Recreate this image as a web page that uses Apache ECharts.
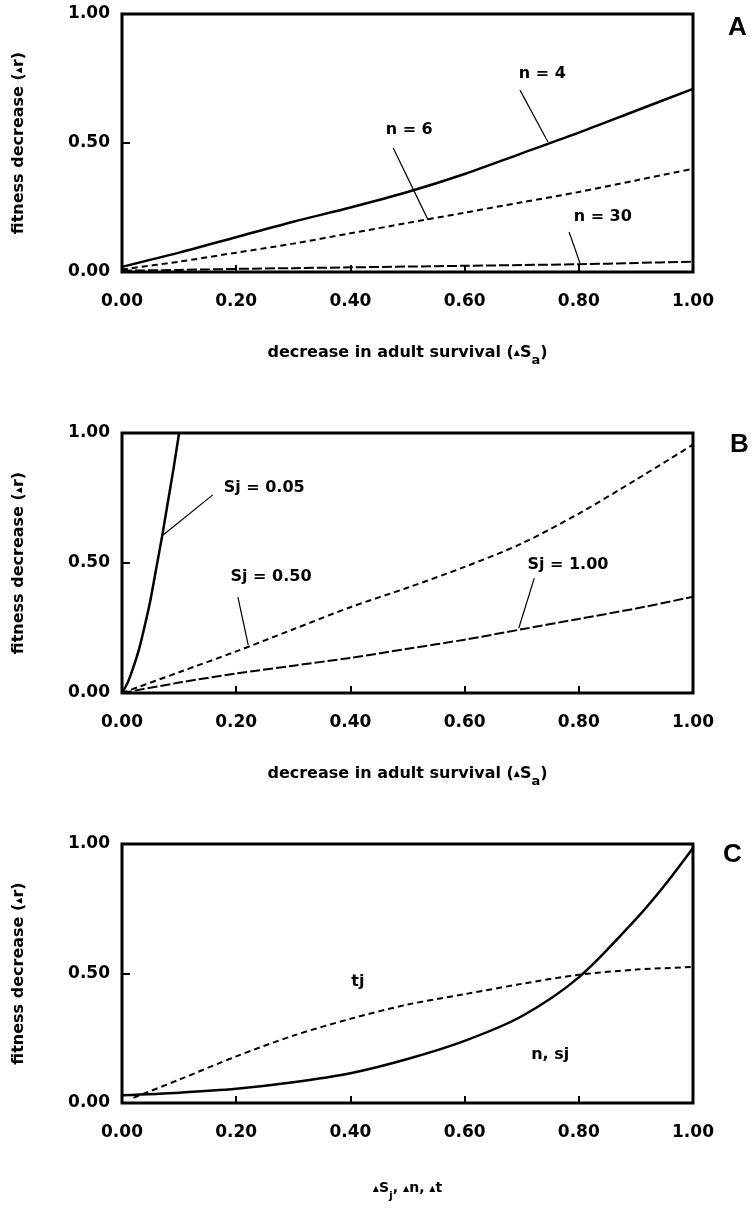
<!DOCTYPE html>
<html><head><meta charset="utf-8">
<script src="https://cdn.jsdelivr.net/npm/echarts@6/dist/echarts.min.js"></script>
<style>html,body{margin:0;padding:0;background:#fff}#c{width:756px;height:1210px}</style>
</head><body><div id="c"></div>
<script>
// ---------- data ----------
const xTickLabels = ['0.00', '0.20', '0.40', '0.60', '0.80', '1.00'];
const yTickLabels = ['0.00', '0.50', '1.00'];

// Panel A : decrease in adult survival vs fitness decrease, for n
const xsA = [0, 0.1, 0.2, 0.3, 0.4, 0.5, 0.6, 0.7, 0.8, 0.9, 1.0];
const aN4  = [0.02, 0.075, 0.135, 0.195, 0.25, 0.31, 0.38, 0.46, 0.54, 0.625, 0.71];
const aN6  = [0.01, 0.04, 0.075, 0.11, 0.15, 0.19, 0.23, 0.27, 0.31, 0.355, 0.40];
const aN30 = [0.005, 0.008, 0.012, 0.015, 0.018, 0.021, 0.024, 0.027, 0.03, 0.035, 0.04];

// Panel B : for juvenile survival Sj
const xsB005 = [0, 0.01, 0.02, 0.03, 0.04, 0.05, 0.06, 0.07, 0.08, 0.09, 0.1];
const bSj005 = [0, 0.04, 0.1, 0.17, 0.26, 0.36, 0.48, 0.6, 0.73, 0.86, 1.0];
const xsB = [0, 0.1, 0.2, 0.3, 0.4, 0.5, 0.6, 0.7, 0.8, 0.9, 1.0];
const bSj050 = [0, 0.08, 0.16, 0.245, 0.33, 0.405, 0.485, 0.575, 0.69, 0.82, 0.955];
const bSj100 = [0, 0.04, 0.075, 0.105, 0.135, 0.17, 0.205, 0.245, 0.285, 0.325, 0.37];

// Panel C : decrease in Sj, n, t
const xsC = [0, 0.1, 0.2, 0.3, 0.4, 0.5, 0.6, 0.7, 0.8, 0.9, 0.95, 1.0];
const cNSj = [0.03, 0.04, 0.055, 0.08, 0.115, 0.17, 0.24, 0.335, 0.485, 0.71, 0.84, 0.985];
const xsCt = [0.02, 0.1, 0.2, 0.3, 0.4, 0.5, 0.6, 0.7, 0.8, 0.9, 1.0];
const cTj  = [0.02, 0.09, 0.18, 0.26, 0.325, 0.38, 0.42, 0.46, 0.495, 0.515, 0.525];

// annotation anchors (data units): [labelX, labelY, text, leaderX1, leaderY1, leaderX2, leaderY2]
const notesA = [
  [0.736, 0.767, 'n = 4', 0.697, 0.705, 0.746, 0.504],
  [0.503, 0.55, 'n = 6', 0.475, 0.481, 0.536, 0.202],
  [0.842, 0.213, 'n = 30', 0.783, 0.155, 0.802, 0.035]
];
const notesB = [
  [0.249, 0.788, 'Sj = 0.05', 0.159, 0.762, 0.072, 0.608],
  [0.261, 0.446, 'Sj = 0.50', 0.203, 0.369, 0.221, 0.185],
  [0.781, 0.492, 'Sj = 1.00', 0.722, 0.442, 0.695, 0.25]
];
const notesC = [
  [0.413, 0.467, 'tj'],
  [0.75, 0.185, 'n, sj']
];

// ---------- chart ----------
const FONT = 'DejaVu Sans';
const pairs = (xs, ys) => xs.map((x, i) => [x, ys[i]]);
const SHORT = [6, 4], LONG = [10, 3];

const triStyle = { fontSize: 8, fontWeight: 'bold', fontFamily: FONT, color: '#000' };
const subStyle = (fs) => ({ fontSize: fs, fontWeight: 'bold', fontFamily: FONT, color: '#000', padding: [16, 0, 0, 0] });

const gridTops = [14, 433, 844];
const gridHeights = [258, 260, 259];
const grid = gridTops.map((t, i) => ({
  left: 122, right: 63, top: t, height: gridHeights[i],
  show: true, borderColor: '#000', borderWidth: 3, backgroundColor: 'transparent'
}));

const xNames = [
  'decrease in adult survival ({tri|▲}S{sub|a})',
  'decrease in adult survival ({tri|▲}S{sub|a})',
  '{tri|▲}S{sub|j}, {tri|▲}n, {tri|▲}t'
];
const xNameSizes = [16, 16, 14];
const xNameGaps = [66, 66, 72];

const xAxis = [0, 1, 2].map(i => ({
  type: 'value', gridIndex: i, min: 0, max: 1, interval: 0.2,
  axisLine: { show: false },
  axisTick: { show: true, inside: true, length: 7, lineStyle: { color: '#000', width: 2 } },
  splitLine: { show: false },
  axisLabel: {
    margin: 21, color: '#000', fontFamily: FONT, fontWeight: 'bold', fontSize: 17,
    formatter: v => xTickLabels[Math.round(v / 0.2)]
  },
  name: xNames[i], nameLocation: 'middle', nameGap: xNameGaps[i],
  nameTextStyle: {
    fontFamily: FONT, fontWeight: 'bold', fontSize: xNameSizes[i], color: '#000',
    rich: { tri: triStyle, sub: subStyle(xNameSizes[i] - 3) }
  }
}));

const yAxis = [0, 1, 2].map(i => ({
  type: 'value', gridIndex: i, min: 0, max: 1, interval: 0.5,
  axisLine: { show: false },
  axisTick: { show: true, inside: true, length: 8, lineStyle: { color: '#000', width: 2 } },
  splitLine: { show: false },
  axisLabel: {
    margin: 12, color: '#000', fontFamily: FONT, fontWeight: 'bold', fontSize: 17,
    formatter: v => yTickLabels[Math.round(v / 0.5)]
  },
  name: 'fitness decrease ({tri|▲}r)', nameLocation: 'middle', nameGap: 95, nameRotate: 90,
  nameTextStyle: {
    fontFamily: FONT, fontWeight: 'bold', fontSize: 16, color: '#000',
    rich: { tri: triStyle }
  }
}));

function curve(idx, data, width, type) {
  return {
    type: 'line', xAxisIndex: idx, yAxisIndex: idx, data: data,
    showSymbol: false, symbol: 'none', smooth: 0.3, silent: true, z: 3,
    lineStyle: { color: '#000', width: width, type: type }
  };
}
function notes(idx, arr) {
  const out = [];
  arr.forEach(n => {
    if (n.length > 3) {
      out.push({
        type: 'line', xAxisIndex: idx, yAxisIndex: idx, data: [[n[3], n[4]], [n[5], n[6]]],
        showSymbol: false, symbol: 'none', silent: true, z: 4,
        lineStyle: { color: '#000', width: 1.2 }
      });
    }
  });
  out.push({
    type: 'scatter', xAxisIndex: idx, yAxisIndex: idx, silent: true, z: 5,
    data: arr.map(n => ({ value: [n[0], n[1]], name: n[2] })),
    symbolSize: 2, itemStyle: { color: '#fff', opacity: 1 },
    label: {
      show: true, position: 'inside', formatter: p => p.name, opacity: 1,
      textBorderWidth: 0, textShadowBlur: 0,
      fontFamily: FONT, fontWeight: 'bold', fontSize: 16, color: '#000'
    },
    emphasis: { disabled: true }
  });
  return out;
}

const series = [
  curve(0, pairs(xsA, aN4), 2.5, 'solid'),
  curve(0, pairs(xsA, aN6), 2, SHORT),
  curve(0, pairs(xsA, aN30), 2, LONG),
  curve(1, pairs(xsB005, bSj005), 2.5, 'solid'),
  curve(1, pairs(xsB, bSj050), 2, SHORT),
  curve(1, pairs(xsB, bSj100), 2, LONG),
  curve(2, pairs(xsC, cNSj), 2.5, 'solid'),
  curve(2, pairs(xsCt, cTj), 2, SHORT),
  ...notes(0, notesA), ...notes(1, notesB), ...notes(2, notesC)
];

const panelLetters = ['A', 'B', 'C'];
const letterPos = [[728, 15], [730, 432], [723, 842]];
const title = panelLetters.map((t, i) => ({
  text: t, left: letterPos[i][0], top: letterPos[i][1], padding: 0,
  textStyle: { fontFamily: 'Liberation Sans', fontWeight: 'bold', fontSize: 26, color: '#000' }
}));

const chart = echarts.init(document.getElementById('c'), null, { renderer: 'canvas' });
chart.setOption({ animation: false, backgroundColor: '#fff', title, grid, xAxis, yAxis, series });
</script>
</body></html>
